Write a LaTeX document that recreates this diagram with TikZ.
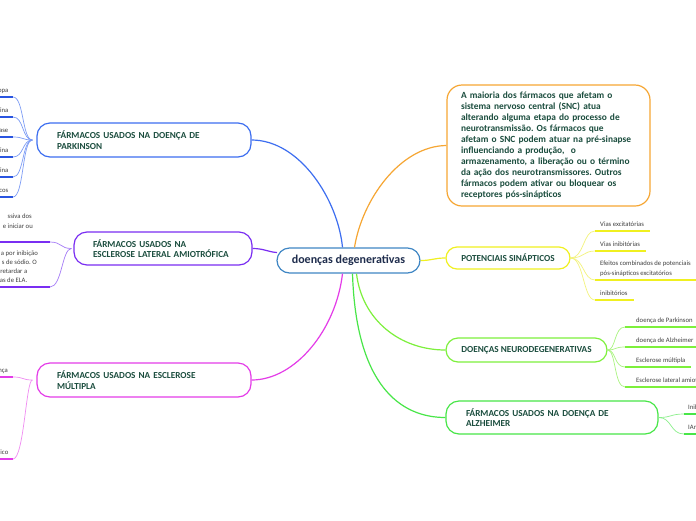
\documentclass[tikz,border=0pt]{standalone}
\usepackage{fontspec}
\setmainfont{Carlito}
\usetikzlibrary{calc}
\definecolor{cblue}{HTML}{3D6EF0}
\definecolor{cblueL}{HTML}{7D9CF5}
\definecolor{cblueD}{HTML}{2A55E0}
\definecolor{cpurple}{HTML}{7A2EF2}
\definecolor{cpurpleL}{HTML}{A57CF7}
\definecolor{cmag}{HTML}{E43CE8}
\definecolor{cmagL}{HTML}{F08CF2}
\definecolor{corange}{HTML}{F6A633}
\definecolor{cyellow}{HTML}{F0F020}
\definecolor{cyellowL}{HTML}{F3F37C}
\definecolor{cgreenA}{HTML}{7DF03C}
\definecolor{cgreenAL}{HTML}{A9F47F}
\definecolor{cgreenB}{HTML}{48E648}
\definecolor{cgreenBL}{HTML}{8CF08C}
\definecolor{ccenter}{HTML}{3F86C4}
\definecolor{lbl}{HTML}{1B4D3E}
\definecolor{ctxt}{HTML}{1F2D4D}
\definecolor{leaftxt}{HTML}{404040}
\begin{document}
\frenchspacing
\begin{tikzpicture}[x=1pt,y=-1pt,
  branch/.style={draw, fill=white, rounded corners=13pt, line width=1.2pt,
    font=\bfseries\fontsize{9.2}{10.5}\selectfont, text=lbl, align=left,
    inner ysep=0pt},
  conn/.style={line width=1.2pt},
  leafc/.style={line width=0.7pt},
  ul/.style={line width=1.8pt},
  leaf/.style={inner sep=0pt, font=\fontsize{6.7}{9.5}\selectfont, text=leaftxt, align=left},
]
\useasboundingbox (0,0) rectangle (696,520);
\clip (0,0) rectangle (696,520);
\fill[white] (0,0) rectangle (696,520);

% ---- central and branch nodes
\node[draw=ccenter, fill=white, rounded corners=12.5pt, line width=1.2pt,
  minimum width=143pt, minimum height=25pt, inner sep=0pt,
  font=\bfseries\fontsize{12}{14}\selectfont, text=ctxt] (c) at (348.5,260.5) {doenças degenerativas};

\node[branch, draw=cblue, minimum height=34pt, text width=174pt, inner xsep=20pt] (pk) at (144,140)
  {\mbox{FÁRMACOS USADOS NA DOENÇA DE}\\\mbox{PARKINSON}};
\node[branch, draw=cpurple, minimum height=33pt, text width=140pt, inner xsep=19pt] (als) at (163,248.5)
  {\mbox{FÁRMACOS USADOS NA}\\\mbox{ESCLEROSE LATERAL AMIOTRÓFICA}};
\node[branch, draw=cmag, minimum height=34pt, text width=174pt, inner xsep=20pt] (ms) at (144,380)
  {\mbox{FÁRMACOS USADOS NA ESCLEROSE}\\\mbox{MÚLTIPLA}};
\node[branch, draw=corange, rounded corners=15pt, minimum height=121pt, text width=175pt, inner xsep=14pt,
  font=\bfseries\fontsize{9.4}{11}\selectfont] (or) at (548.5,145.5)
  {\mbox{A maioria dos fármacos que afetam o}\\
   \mbox{sistema nervoso central (SNC) atua}\\
   \mbox{alterando alguma etapa do processo de}\\
   \mbox{neurotransmissão. Os fármacos que}\\
   \mbox{afetam o SNC podem atuar na pré-sinapse}\\
   \mbox{influenciando a produção,~ o}\\
   \mbox{armazenamento, a liberação ou o término}\\
   \mbox{da ação dos neurotransmissores. Outros}\\
   \mbox{fármacos podem ativar ou bloquear os}\\
   \mbox{receptores pós-sinápticos}};
\node[branch, draw=cyellow, rounded corners=11pt, align=center, minimum width=124pt, minimum height=22pt, inner xsep=0pt] (pot) at (508,258)
  {POTENCIAIS SINÁPTICOS};
\node[branch, draw=cgreenA, rounded corners=12pt, align=center, minimum width=161pt, minimum height=24pt, inner xsep=0pt] (neu) at (526.5,350)
  {DOENÇAS NEURODEGENERATIVAS};
\node[branch, draw=cgreenB, minimum height=33pt, text width=172pt, inner xsep=20pt] (alz) at (552,417.5)
  {\mbox{FÁRMACOS USADOS NA DOENÇA DE}\\\mbox{ALZHEIMER}};

% ---- main connectors
\draw[cblue, conn] (pk.east) .. controls (300,140) and (338,200) .. ($(c.north)+(-6,0)$);
\draw[corange, conn] ($(c.north)+(6,0)$) .. controls (362,200) and (400,146) .. (or.west);
\draw[cpurple, conn] (als.east) .. controls (264,248.5) and (268,252) .. ($(c.west)+(0.6,-8)$);
\draw[cmag, conn] (ms.east) .. controls (295,380) and (336,330) .. ($(c.south)+(-6,0)$);
\draw[cyellow, conn] (c.east) .. controls (432,260.5) and (434,258) .. (pot.west);
\draw[cgreenA, conn] ($(c.south)+(8,0)$) .. controls (362,320) and (400,350) .. (neu.west);
\draw[cgreenB, conn] ($(c.south)+(4,0)$) .. controls (356,385) and (400,417.5) .. (alz.west);

% ---- Parkinson leaves (left, clipped)
\foreach \i/\y/\t in {1/97/opa, 2/117/ina, 3/137/ase, 4/157/ina, 5/177/ina, 6/197/cos}{
  \coordinate (pku\i) at (13,\y);
  \node[leaf, anchor=base east] (pkl\i) at (8.5,\y-5) {\t};
  \draw[cblueL, leafc] ($(pk.west)+(-4,0)$) .. controls (22,140) and (24,\y) .. (pku\i);
  \draw[cblueD, ul] (pku\i) -- ++(-20,0);
}

% ---- ALS leaves
\coordinate (alsu1) at (50,242);
\coordinate (alsu2) at (50,287);
\node[leaf, anchor=base east] (als1a) at (32,218) {ssiva dos};
\node[leaf, anchor=base east] (als1b) at (33,228) {e iniciar ou};
\node[leaf, anchor=base east] (als2a) at (38,255) {a por inibição};
\node[leaf, anchor=base east] (als2b) at (37,264) {s de sódio. O};
\node[leaf, anchor=base east] (als2c) at (27.5,273) {retardar a};
\node[leaf, anchor=base east] (als2d) at (27.5,282) {as de ELA.};
\draw[cpurpleL, leafc] ($(als.west)+(-2,0)$) .. controls (60,248.5) and (62,242) .. (alsu1);
\draw[cpurpleL, leafc] ($(als.west)+(-2,0)$) .. controls (62,248.5) and (62,287) .. (alsu2);
\draw[cpurple, ul] (alsu1) -- ++(-55,0);
\draw[cpurple, ul] (alsu2) -- ++(-55,0);

% ---- Multiple sclerosis leaves
\coordinate (msu1) at (13,377);
\coordinate (msu2) at (13,459);
\node[leaf, anchor=base east] (msl1) at (8,372) {ença};
\node[leaf, anchor=base east] (msl2) at (8.5,454) {ico};
\draw[cmagL, leafc] ($(ms.west)+(-4,0)$) .. controls (22,380) and (24,377) .. (msu1);
\draw[cmagL, leafc] ($(ms.west)+(-4,0)$) .. controls (26,380) and (24,459) .. (msu2);
\draw[cmag, ul] (msu1) -- ++(-20,0);
\draw[cmag, ul] (msu2) -- ++(-20,0);

% ---- Potenciais leaves
\coordinate (pu1) at (595,231);
\coordinate (pu2) at (595,251);
\coordinate (pu3) at (595,280);
\coordinate (pu4) at (595,300);
\node[leaf, anchor=base west] (pt1) at (600,226) {Vias excitatórias};
\node[leaf, anchor=base west] (pt2) at (600,246) {Vias inibitórias};
\node[leaf, anchor=base west] (pt3) at (600,275) {Efeitos combinados de potenciais\\pós-sinápticos excitatórios};
\node[leaf, anchor=base west] (pt4) at (600,295) {inibitórios};
\foreach \i in {1,2,3,4}{
  \draw[cyellowL, leafc] (pot.east) .. controls (584,258) and (583,0|-pu\i) .. (pu\i);
  \draw[cyellow, ul] (pu\i) -- (pu\i -| pt\i.east) -- ++(6,0);
}

% ---- Neuro leaves
\coordinate (nu1) at (625,327);
\coordinate (nu2) at (625,347);
\coordinate (nu3) at (625,367);
\coordinate (nu4) at (625,387);
\node[leaf, anchor=base west] (nt1) at (636,322) {doença de Parkinson};
\node[leaf, anchor=base west] (nt2) at (636,342) {doença de Alzheimer};
\node[leaf, anchor=base west] (nt3) at (636,362) {Esclerose múltipla};
\node[leaf, anchor=base west] (nt4) at (636,382) {Esclerose lateral amiotrófica};
\foreach \i in {1,2,3,4}{
  \draw[cgreenAL, leafc] (neu.east) .. controls (616,350) and (614,0|-nu\i) .. (nu\i);
  \draw[cgreenA, ul] (nu\i) -- (nu\i -| nt\i.east) -- ++(5,0);
}

% ---- Alzheimer leaves
\coordinate (au1) at (684,414);
\coordinate (au2) at (684,434);
\node[leaf, anchor=base west] (at1) at (688,409) {Inib};
\node[leaf, anchor=base west] (at2) at (688,429) {IAr};
\draw[cgreenBL, leafc] (alz.east) .. controls (672,417.5) and (670,414) .. (au1);
\draw[cgreenBL, leafc] (alz.east) .. controls (672,417.5) and (670,434) .. (au2);
\draw[cgreenB, ul] (au1) -- ++(20,0);
\draw[cgreenB, ul] (au2) -- ++(20,0);
\end{tikzpicture}
\end{document}
